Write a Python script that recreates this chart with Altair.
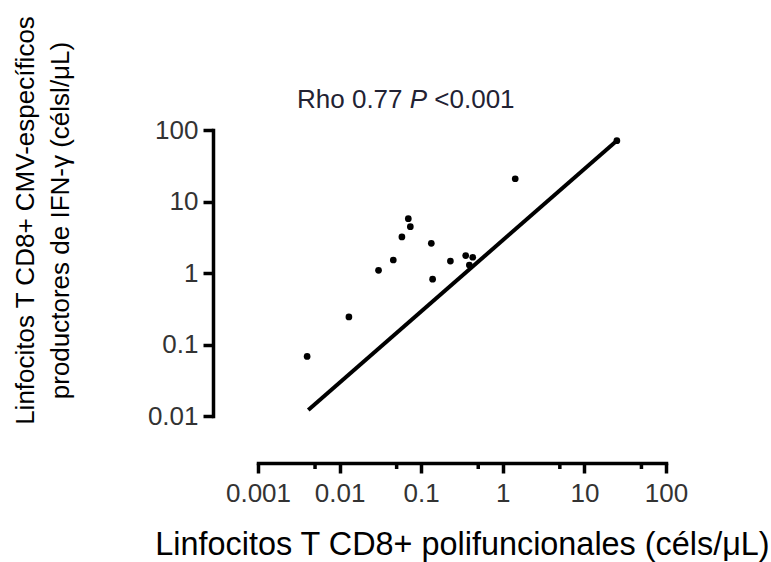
import altair as alt
import pandas as pd

# ---- data ----
x_cells = [0.004, 0.013, 0.030, 0.0455, 0.058, 0.0695, 0.0736, 0.133, 0.138,
           0.228, 0.351, 0.428, 0.389, 1.42, 25.0]
y_cells = [0.068, 0.243, 1.09, 1.52, 3.19, 5.75, 4.44, 2.6, 0.82,
           1.47, 1.75, 1.66, 1.29, 20.8, 71.0]

line_x = [0.00413, 24.9]
line_y = [0.0121, 70.8]

x_major = [0.001, 0.01, 0.1, 1, 10, 100]
x_minor = [0.005, 0.05, 0.5, 5, 50]
y_major = [0.01, 0.1, 1, 10, 100]

title_parts = ["Rho 0.77", "P", "<0.001"]
x_title = "Linfocitos T CD8+ polifuncionales (céls/μL)"
y_title = ["Linfocitos T CD8+ CMV-específicos", "productores de  IFN-γ (célsl/μL)"]

FONT = "Liberation Sans"
W, H = 408, 286
X_OFF, Y_OFF = 47, 45
TFS = 26  # title font size

pts = pd.DataFrame({"x": x_cells, "y": y_cells})
fit = pd.DataFrame({"x": line_x, "y": line_y})
minor = pd.DataFrame({"x": x_minor})

xscale = alt.Scale(type="log", domain=[0.001, 100], nice=False)
yscale = alt.Scale(type="log", domain=[0.01, 100], nice=False)

common_axis = dict(grid=False, domainColor="black", domainWidth=3.5, domainCap="square",
                   tickColor="black", tickWidth=3.5, tickSize=10,
                   labelFont=FONT, labelFontSize=26, labelColor="#333333",
                   labelFlush=False, labelOverlap=False, format="~g",
                   titleFont=FONT, titleColor="black", titleFontWeight="normal")

xaxis = alt.Axis(values=x_major, orient="bottom", offset=X_OFF, labelPadding=7,
                 title=x_title, titleFontSize=32.4, titleX=W / 2, titleY=91,
                 titleBaseline="alphabetic", titleAlign="center", **common_axis)
yaxis = alt.Axis(values=y_major, orient="left", offset=Y_OFF, labelPadding=5,
                 title=y_title, titleFontSize=26, titleLineHeight=35,
                 titleAngle=270, titleX=-180, titleY=90,
                 titleBaseline="alphabetic", titleAlign="center", **common_axis)

points = alt.Chart(pts).mark_circle(size=45, color="black", opacity=1).encode(
    x=alt.X("x:Q", scale=xscale, axis=xaxis),
    y=alt.Y("y:Q", scale=yscale, axis=yaxis),
)

reg = alt.Chart(fit).mark_line(color="black", strokeWidth=4).encode(
    x=alt.X("x:Q", scale=xscale),
    y=alt.Y("y:Q", scale=yscale),
)

minor_ticks = alt.Chart(minor).mark_rule(color="black", strokeWidth=3.5).encode(
    x=alt.X("x:Q", scale=xscale),
    y=alt.value(H + X_OFF),
    y2=alt.value(H + X_OFF + 6),
)

one = pd.DataFrame({"k": [0]})
x0 = 39
x_p = x0 + 4.336 * TFS
x_lt = x_p + (0.667 + 0.278) * TFS
t1 = alt.Chart(one).mark_text(text=title_parts[0], font=FONT, fontSize=TFS, color="#222233",
                              align="left", baseline="alphabetic").encode(
    x=alt.value(x0), y=alt.value(-22))
t2 = alt.Chart(one).mark_text(text=title_parts[1], font=FONT, fontSize=TFS, fontStyle="italic",
                              color="#222233", align="left", baseline="alphabetic").encode(
    x=alt.value(x_p), y=alt.value(-22))
t3 = alt.Chart(one).mark_text(text=title_parts[2], font=FONT, fontSize=TFS, color="#222233",
                              align="left", baseline="alphabetic").encode(
    x=alt.value(x_lt), y=alt.value(-22))

chart = alt.layer(reg, points, minor_ticks, t1, t2, t3).properties(
    width=W, height=H,
    autosize=alt.AutoSizeParams(type="none"),
    padding={"left": 258, "top": 130, "right": 105, "bottom": 146},
).configure_view(strokeWidth=0)

chart.save("out.html", embed_options={"renderer": "svg", "actions": False})
